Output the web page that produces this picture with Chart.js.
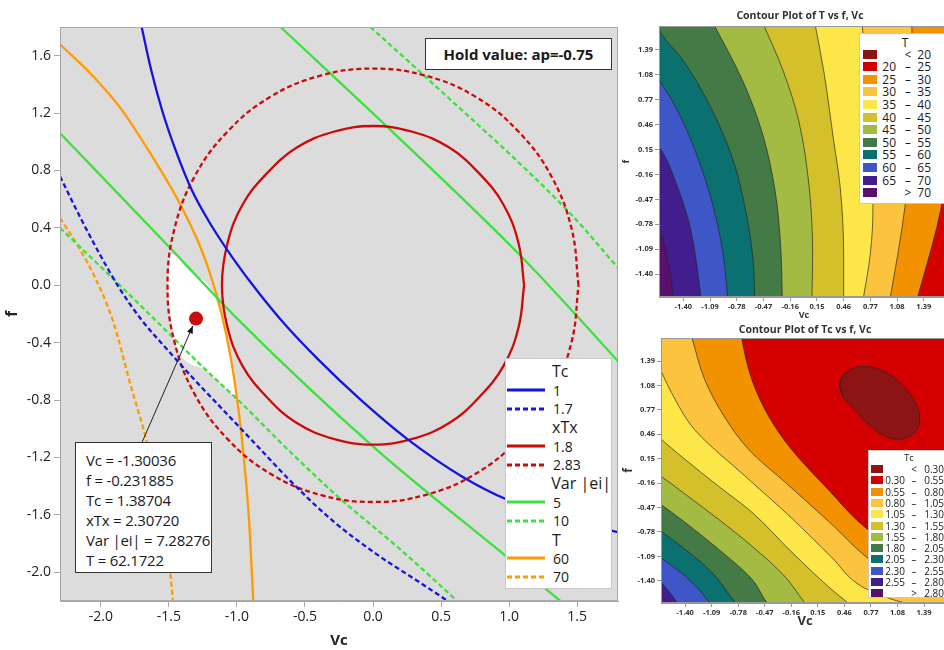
<!DOCTYPE html>
<html>
<head>
<meta charset="utf-8">
<script src="https://cdn.jsdelivr.net/npm/chart.js@4.4.1/dist/chart.umd.min.js"></script>
<style>
  html, body { margin: 0; padding: 0; background: #fff; }
  body { position: relative; width: 944px; height: 650px; overflow: hidden; font-family: 'Open Sans', sans-serif; color: #1a1a1a; }
  canvas { position: absolute; }
  .box { position: absolute; background: #fff; box-sizing: border-box; }
  .plot-title { position: absolute; text-align: center; font-weight: bold; font-size: 10.5px; color: #333; white-space: nowrap; }
  #hold { left: 425px; top: 38px; width: 187px; height: 32px; border: 1px solid #333; font-weight: bold; font-size: 15px; line-height: 30px; text-align: center; }
  #callout { left: 75px; top: 442px; width: 137px; height: 131px; border: 1px solid #333; padding: 7px 0 0 10px; font-size: 15px; line-height: 20px; white-space: nowrap; letter-spacing: -0.2px; }
  #overlayKey { left: 505px; top: 358px; width: 107px; height: 231px; border: 1px solid #c8c8c8; padding-top: 3px; }
  #overlayKey .row { height: 18.7px; display: flex; align-items: center; white-space: nowrap; }
  #overlayKey .row span { margin-left: 7px; font-size: 14px; }
  #overlayKey .row.group span { font-size: 16px; }
  .key { border: 1px solid #c8c8c8; }
  .key .ttl { position: absolute; left: 0; width: 100%; text-align: center; }
  .key .sw { position: absolute; }
  .key .lo, .key .hi { position: absolute; text-align: right; width: 30px; }
  .key .sym { position: absolute; width: 12px; text-align: center; }
</style>
</head>
<body>
<canvas id="overlaid" width="625" height="650" style="left:0;top:0"></canvas>
<canvas id="contourT" width="335" height="322" style="left:620px;top:0"></canvas>
<canvas id="contourTc" width="335" height="328" style="left:620px;top:322px"></canvas>

<div class="plot-title" style="left:655px;top:8px;width:290px">Contour Plot of T vs f, Vc</div>
<div class="plot-title" style="left:660px;top:322px;width:290px">Contour Plot of Tc vs f, Vc</div>

<div id="hold" class="box"></div>
<div id="callout" class="box"></div>
<div id="overlayKey" class="box"></div>
<div id="keyT" class="box key" style="left:859px;top:33px;width:92px;height:171px"></div>
<div id="keyTc" class="box key" style="left:868px;top:450px;width:82px;height:148px"></div>

<script>
// ---------- overlaid contour plot (Vc, f), ap held ----------
const VC_TICKS = [-2.0, -1.5, -1.0, -0.5, 0.0, 0.5, 1.0, 1.5];
const F_TICKS = [-2.0, -1.6, -1.2, -0.8, -0.4, 0.0, 0.4, 0.8, 1.2, 1.6];

const RESPONSES = ['Tc', 'xTx', 'Var |ei|', 'T'];
const CONTOUR_LEVELS = [[1, 1.7], [1.8, 2.83], [5, 10], [60, 70]];

const TC_AT_1 = [[-1.70,1.80],[-1.63,1.50],[-1.55,1.22],[-1.45,0.94],[-1.33,0.66],[-1.19,0.42],[-1.03,0.19],[-0.85,-0.04],[-0.65,-0.27],[-0.40,-0.52],[-0.10,-0.79],[0.25,-1.07],[0.65,-1.33],[1.00,-1.50],[1.40,-1.63],[1.80,-1.72]];
const TC_AT_17 = [[-2.30,0.76],[-2.16,0.49],[-2.01,0.22],[-1.87,-0.01],[-1.71,-0.23],[-1.51,-0.45],[-1.31,-0.66],[-1.10,-0.87],[-0.87,-1.10],[-0.60,-1.37],[-0.31,-1.63],[0.02,-1.87],[0.31,-2.05],[0.55,-2.20]];
const XTX_AT_18 = [[1.11,0.00],[1.07,0.29],[0.96,0.56],[0.78,0.78],[0.56,0.96],[0.29,1.07],[0.00,1.11],[-0.29,1.07],[-0.56,0.96],[-0.78,0.78],[-0.96,0.56],[-1.07,0.29],[-1.11,0.00],[-1.07,-0.29],[-0.96,-0.56],[-0.78,-0.78],[-0.56,-0.96],[-0.29,-1.07],[0.00,-1.11],[0.29,-1.07],[0.56,-0.96],[0.78,-0.78],[0.96,-0.56],[1.07,-0.29],[1.11,0.00]];
const XTX_AT_283 = [[1.51,0.00],[1.46,0.39],[1.31,0.76],[1.07,1.07],[0.76,1.31],[0.39,1.46],[0.00,1.51],[-0.39,1.46],[-0.76,1.31],[-1.07,1.07],[-1.31,0.76],[-1.46,0.39],[-1.51,0.00],[-1.46,-0.39],[-1.31,-0.76],[-1.07,-1.07],[-0.76,-1.31],[-0.39,-1.46],[0.00,-1.51],[0.39,-1.46],[0.76,-1.31],[1.07,-1.07],[1.31,-0.76],[1.46,-0.39],[1.51,0.00]];
const VAR_AT_5_LOW = [[-2.30,1.06],[-1.48,0.25],[-0.98,-0.25],[0.02,-1.14],[0.98,-1.89],[1.39,-2.21]];
const VAR_AT_5_HIGH = [[-0.68,1.80],[0.12,1.09],[1.10,0.19],[1.60,-0.32],[1.80,-0.53]];
const VAR_AT_10_LOW = [[-2.30,0.40],[-1.86,0.00],[-1.57,-0.27],[-1.25,-0.57],[-0.98,-0.81],[-0.62,-1.15],[-0.25,-1.48],[0.20,-1.84],[0.63,-2.21]];
const VAR_AT_10_HIGH = [[-0.02,1.80],[0.40,1.44],[1.45,0.50],[1.81,0.11]];
const T_AT_60 = [[-2.30,1.68],[-2.04,1.44],[-1.86,1.24],[-1.63,0.91],[-1.42,0.57],[-1.27,0.27],[-1.18,0.03],[-1.10,-0.25],[-1.02,-0.65],[-0.96,-1.10],[-0.91,-1.65],[-0.88,-2.20]];
const T_AT_70 = [[-2.30,0.47],[-2.16,0.26],[-2.04,0.05],[-1.91,-0.25],[-1.78,-0.70],[-1.66,-1.10],[-1.56,-1.55],[-1.49,-2.00],[-1.47,-2.20]];

// feasible (white) window, upper and lower edges
const FEASIBLE_TOP = [[-1.51,0.00],[-1.50,0.12],[-1.49,0.22],[-1.34,0.09],[-1.19,-0.03],[-1.10,-0.27],[-1.02,-0.65],[-0.99,-0.80]];
const FEASIBLE_BOTTOM = [[-1.51,0.00],[-1.49,-0.25],[-1.45,-0.42],[-1.22,-0.60],[-0.99,-0.80]];

const HOLD_FACTOR = 'ap';
const HOLD_VALUE = '-0.75';
const CALLOUT_NAMES = ['Vc', 'f', 'Tc', 'xTx', 'Var |ei|', 'T'];
const CALLOUT_VALUES = ['-1.30036', '-0.231885', '1.38704', '2.30720', '7.28276', '62.1722'];

// ---------- filled contour plots, coded units ----------
const CODED_TICKS = [-1.40, -1.09, -0.78, -0.47, -0.16, 0.15, 0.46, 0.77, 1.08, 1.39];

const T_LEVELS = [20, 25, 30, 35, 40, 45, 50, 55, 60, 65, 70];
const T_AT_25 = [[1.80,1.75],[1.72,0.40],[1.62,-0.40],[1.54,-0.82],[1.43,-1.26],[1.30,-1.75]];
const T_AT_30 = [[1.25,1.75],[1.26,0.87],[1.23,0.13],[1.17,-0.57],[1.09,-1.14],[0.99,-1.75]];
const T_AT_35 = [[0.67,1.75],[0.74,0.91],[0.78,0.13],[0.80,-0.57],[0.77,-1.14],[0.68,-1.75]];
const T_AT_40 = [[0.12,1.75],[0.23,1.12],[0.34,0.29],[0.42,-0.32],[0.46,-1.14],[0.46,-1.75]];
const T_AT_45 = [[-0.49,1.75],[-0.24,1.12],[-0.06,0.50],[0.06,-0.32],[0.10,-1.14],[0.09,-1.75]];
const T_AT_50 = [[-1.07,1.75],[-0.71,1.00],[-0.48,0.34],[-0.33,-0.40],[-0.27,-1.07],[-0.25,-1.75]];
const T_AT_55 = [[-1.72,1.75],[-1.65,1.58],[-1.40,1.25],[-1.10,0.71],[-0.82,0.01],[-0.67,-0.65],[-0.59,-1.23],[-0.57,-1.75]];
const T_AT_60_CODED = [[-1.75,1.12],[-1.65,0.96],[-1.48,0.66],[-1.25,0.10],[-1.05,-0.57],[-0.94,-1.14],[-0.88,-1.75]];
const T_AT_65 = [[-1.75,0.25],[-1.65,0.13],[-1.48,-0.28],[-1.34,-0.73],[-1.25,-1.23],[-1.19,-1.75]];
const T_AT_70_CODED = [[-1.75,-0.80],[-1.65,-0.93],[-1.60,-1.14],[-1.54,-1.47],[-1.51,-1.75]];
const T_BOUNDARIES = [T_AT_25, T_AT_30, T_AT_35, T_AT_40, T_AT_45, T_AT_50, T_AT_55, T_AT_60_CODED, T_AT_65, T_AT_70_CODED];

const TC_LEVELS = [0.30, 0.55, 0.80, 1.05, 1.30, 1.55, 1.80, 2.05, 2.30, 2.55, 2.80];
// closed < 0.30 island, traced clockwise; the first two points are repeated at the end
const TC_AT_030 = [[0.44,0.95],[0.41,1.12],[0.50,1.26],[0.68,1.32],[0.92,1.26],[1.15,1.07],[1.29,0.86],[1.34,0.65],[1.28,0.48],[1.12,0.40],[0.95,0.43],[0.76,0.57],[0.58,0.77],[0.44,0.95],[0.41,1.12],[0.50,1.26]];
const TC_AT_055 = [[-0.75,1.75],[-0.74,1.68],[-0.62,1.15],[-0.42,0.68],[-0.16,0.27],[0.27,-0.24],[0.69,-0.71],[1.10,-1.02],[1.70,-1.30],[1.85,-1.40]];
const TC_AT_080 = [[-1.34,1.75],[-1.32,1.68],[-1.17,1.15],[-0.94,0.68],[-0.66,0.27],[-0.20,-0.18],[0.29,-0.66],[0.72,-1.10],[1.15,-1.42],[1.70,-1.65],[1.85,-1.75]];
const TC_AT_105 = [[-1.75,1.42],[-1.71,1.33],[-1.56,0.99],[-1.29,0.52],[-0.68,-0.09],[-0.16,-0.60],[0.31,-1.10],[0.66,-1.47],[1.00,-1.63],[1.24,-1.70],[1.45,-1.75]];
const TC_AT_130 = [[-1.75,0.48],[-1.71,0.43],[-1.40,0.14],[-1.01,-0.20],[-0.62,-0.53],[-0.17,-1.02],[0.31,-1.51],[0.49,-1.67],[0.58,-1.75]];
const TC_AT_155 = [[-1.75,-0.02],[-1.71,-0.05],[-1.40,-0.30],[-1.01,-0.62],[-0.62,-0.96],[-0.24,-1.34],[-0.01,-1.67],[0.05,-1.75]];
const TC_AT_180 = [[-1.75,-0.38],[-1.71,-0.41],[-1.40,-0.66],[-1.01,-1.00],[-0.62,-1.38],[-0.45,-1.67],[-0.39,-1.75]];
const TC_AT_205 = [[-1.75,-0.72],[-1.71,-0.75],[-1.40,-1.00],[-1.09,-1.29],[-0.82,-1.67],[-0.76,-1.75]];
const TC_AT_230 = [[-1.75,-1.06],[-1.71,-1.09],[-1.40,-1.34],[-1.12,-1.67],[-1.08,-1.75]];
const TC_AT_255 = [[-1.75,-1.33],[-1.71,-1.38],[-1.50,-1.67],[-1.47,-1.75]];
const TC_AT_280 = [[-1.75,-1.58],[-1.70,-1.63],[-1.67,-1.70],[-1.65,-1.75]];
const TC_BOUNDARIES = [TC_AT_055, TC_AT_080, TC_AT_105, TC_AT_130, TC_AT_155, TC_AT_180, TC_AT_205, TC_AT_230, TC_AT_255, TC_AT_280];

// ---------- styling ----------
const PALETTE = ['#8c1414','#d40000','#f39200','#fcc43e','#fde748','#d3c02a','#a3bb42','#447a45','#0b7070','#3f57c6','#421d8d','#5b0f6c'];
const RESPONSE_COLORS = ['#1414dc', '#cc0a0a', '#3de03d', '#ff9a00'];
const DASH = [5, 3];
const EDGE = 'rgba(35,35,35,0.85)';
const FONT = "'Open Sans', sans-serif";

const pts = arr => arr.map(([x, y]) => ({ x, y }));

const plotBg = {
  id: 'plotBg',
  beforeDatasetsDraw(chart, args, opts) {
    const { ctx, chartArea: a } = chart;
    ctx.save();
    ctx.fillStyle = opts.color;
    ctx.fillRect(a.left, a.top, a.right - a.left, a.bottom - a.top);
    ctx.restore();
  }
};
const frame = {
  id: 'frame',
  afterDraw(chart, args, opts) {
    const { ctx, chartArea: a } = chart;
    ctx.save();
    ctx.strokeStyle = opts.color;
    ctx.lineWidth = 1;
    ctx.strokeRect(a.left + 0.5, a.top + 0.5, a.right - a.left - 1, a.bottom - a.top - 1);
    ctx.restore();
  }
};
const calloutArrow = {
  id: 'calloutArrow',
  afterDatasetsDraw(chart, args, opts) {
    const { ctx, scales: { x, y } } = chart;
    const x0 = x.getPixelForValue(opts.from[0]), y0 = y.getPixelForValue(opts.from[1]);
    const x1 = x.getPixelForValue(opts.to[0]), y1 = y.getPixelForValue(opts.to[1]);
    const ang = Math.atan2(y1 - y0, x1 - x0);
    const tx = x1 - Math.cos(ang) * 8, ty = y1 - Math.sin(ang) * 8;
    ctx.save();
    ctx.strokeStyle = '#222';
    ctx.fillStyle = '#111';
    ctx.lineWidth = 1;
    ctx.beginPath(); ctx.moveTo(x0, y0); ctx.lineTo(tx, ty); ctx.stroke();
    ctx.beginPath();
    ctx.moveTo(tx, ty);
    ctx.lineTo(tx - 8 * Math.cos(ang - 0.4), ty - 8 * Math.sin(ang - 0.4));
    ctx.lineTo(tx - 8 * Math.cos(ang + 0.4), ty - 8 * Math.sin(ang + 0.4));
    ctx.closePath(); ctx.fill();
    ctx.restore();
  }
};

// open contours run left to right, so monotone splines keep them from wobbling;
// the closed xTx rings use plain bezier tension
function contourLine(data, color, dashed, ring) {
  const ds = {
    data: pts(data), showLine: true, borderColor: color, borderWidth: 2.3,
    borderDash: dashed ? DASH : [], pointRadius: 0, fill: false
  };
  if (ring) ds.tension = 0.4; else ds.cubicInterpolationMode = 'monotone';
  return ds;
}

const dot = { x: parseFloat(CALLOUT_VALUES[0]), y: parseFloat(CALLOUT_VALUES[1]) };

new Chart(document.getElementById('overlaid'), {
  type: 'scatter',
  data: {
    datasets: [
      { data: [dot], pointRadius: 7, pointHoverRadius: 7, backgroundColor: RESPONSE_COLORS[1], borderWidth: 0 },
      contourLine(TC_AT_1, RESPONSE_COLORS[0], false),
      contourLine(TC_AT_17, RESPONSE_COLORS[0], true),
      contourLine(XTX_AT_18, RESPONSE_COLORS[1], false, true),
      contourLine(XTX_AT_283, RESPONSE_COLORS[1], true, true),
      contourLine(VAR_AT_5_LOW, RESPONSE_COLORS[2], false),
      contourLine(VAR_AT_5_HIGH, RESPONSE_COLORS[2], false),
      contourLine(VAR_AT_10_LOW, RESPONSE_COLORS[2], true),
      contourLine(VAR_AT_10_HIGH, RESPONSE_COLORS[2], true),
      contourLine(T_AT_60, RESPONSE_COLORS[3], false),
      contourLine(T_AT_70, RESPONSE_COLORS[3], true),
      { data: pts(FEASIBLE_TOP), showLine: true, borderWidth: 0, pointRadius: 0, cubicInterpolationMode: 'monotone', backgroundColor: '#ffffff', fill: '+1' },
      { data: pts(FEASIBLE_BOTTOM), showLine: true, borderWidth: 0, pointRadius: 0, cubicInterpolationMode: 'monotone', fill: false }
    ]
  },
  options: {
    responsive: false,
    animation: false,
    events: [],
    layout: { padding: { top: 27, right: 5, left: 0, bottom: 0 } },
    plugins: {
      legend: { display: false },
      tooltip: { enabled: false },
      plotBg: { color: '#dcdcdc' },
      frame: { color: '#a8a8a8' },
      calloutArrow: { from: [-1.70, -1.10], to: [dot.x, dot.y] }
    },
    scales: {
      x: {
        type: 'linear', min: -2.3, max: 1.8,
        afterBuildTicks: s => { s.ticks = VC_TICKS.map(v => ({ value: v })); },
        afterFit: s => { s.height = 49; },
        ticks: { callback: v => v.toFixed(1), font: { family: FONT, size: 14 }, color: '#222', padding: 2, maxRotation: 0 },
        grid: { drawOnChartArea: false, tickLength: 6, color: '#a8a8a8' },
        border: { color: '#a8a8a8' },
        title: { display: true, text: 'Vc', font: { family: FONT, size: 15, weight: 'bold' }, color: '#222', padding: { top: 0, bottom: 0 } }
      },
      y: {
        type: 'linear', min: -2.2, max: 1.8,
        afterBuildTicks: s => { s.ticks = F_TICKS.map(v => ({ value: v })); },
        afterFit: s => { s.width = 60; },
        ticks: { callback: v => v.toFixed(1), font: { family: FONT, size: 14 }, color: '#222', padding: 3 },
        grid: { drawOnChartArea: false, tickLength: 6, color: '#a8a8a8' },
        border: { color: '#a8a8a8' },
        title: { display: true, text: 'f', font: { family: FONT, size: 16, weight: 'bold' }, color: '#222', padding: { top: 3, bottom: 0 } }
      }
    }
  },
  plugins: [plotBg, frame, calloutArrow]
});

// ---------- filled contour charts ----------
function bandLayer(data, color) {
  return {
    data: pts(data), borderColor: EDGE, borderWidth: 0.8, backgroundColor: color,
    fill: { value: -1.9 }, pointRadius: 0, cubicInterpolationMode: 'monotone'
  };
}

function codedScales(xTitle, yTitle, xHeight, yWidth) {
  const tickFont = { family: FONT, size: 7.5, weight: 'bold' };
  return {
    x: {
      type: 'linear', min: -1.682, max: 1.682,
      afterBuildTicks: s => { s.ticks = CODED_TICKS.map(v => ({ value: v })); },
      afterFit: s => { s.height = xHeight; },
      ticks: { callback: v => v.toFixed(2), font: tickFont, color: '#333', padding: 1, maxRotation: 0, autoSkip: false },
      grid: { drawOnChartArea: false, tickLength: 4, color: '#999' },
      border: { color: '#999' },
      title: { display: true, text: 'Vc', font: { family: FONT, size: xTitle, weight: 'bold' }, color: '#333', padding: { top: 0, bottom: 1 } }
    },
    y: {
      type: 'linear', min: -1.682, max: 1.682,
      afterBuildTicks: s => { s.ticks = CODED_TICKS.map(v => ({ value: v })); },
      afterFit: s => { s.width = yWidth; },
      ticks: { callback: v => v.toFixed(2), font: tickFont, color: '#333', padding: 2, autoSkip: false },
      grid: { drawOnChartArea: false, tickLength: 4, color: '#999' },
      border: { color: '#999' },
      title: { display: true, text: 'f', font: { family: FONT, size: yTitle, weight: 'bold' }, color: '#333', padding: { top: 1, bottom: 0 } }
    }
  };
}

// painted from the largest region inward: dataset 0 ends up on top
const tSets = [];
for (let k = T_BOUNDARIES.length - 1; k >= 0; k--) tSets.push(bandLayer(T_BOUNDARIES[k], PALETTE[k + 2]));

new Chart(document.getElementById('contourT'), {
  type: 'line',
  data: { datasets: tSets },
  options: {
    indexAxis: 'y',
    responsive: false,
    animation: false,
    events: [],
    layout: { padding: { top: 26, right: 6, left: 0, bottom: 0 } },
    plugins: { legend: { display: false }, tooltip: { enabled: false }, plotBg: { color: PALETTE[1] }, frame: { color: '#999' } },
    scales: codedScales(9, 8.5, 25, 39)
  },
  plugins: [plotBg, frame]
});

// the < 0.30 island is a closed ring filled inside its own outline
const island = Object.assign(bandLayer(TC_AT_030, PALETTE[0]), { fill: 'shape', cubicInterpolationMode: 'default', tension: 0.4 });
const tcSets = [island];
for (let k = TC_BOUNDARIES.length - 1; k >= 0; k--) tcSets.push(bandLayer(TC_BOUNDARIES[k], PALETTE[k + 2]));

new Chart(document.getElementById('contourTc'), {
  type: 'line',
  data: { datasets: tcSets },
  options: {
    indexAxis: 'y',
    responsive: false,
    animation: false,
    events: [],
    layout: { padding: { top: 16, right: 6, left: 0, bottom: 20 } },
    plugins: { legend: { display: false }, tooltip: { enabled: false }, plotBg: { color: PALETTE[1] }, frame: { color: '#999' } },
    scales: codedScales(13, 12, 27, 41)
  },
  plugins: [plotBg, frame]
});

// ---------- boxes and keys ----------
document.getElementById('hold').textContent = 'Hold value: ' + HOLD_FACTOR + '=' + HOLD_VALUE;
document.getElementById('callout').innerHTML =
  CALLOUT_NAMES.map((n, i) => '<div>' + n + ' = ' + CALLOUT_VALUES[i] + '</div>').join('');

const okey = document.getElementById('overlayKey');
RESPONSES.forEach((name, i) => {
  okey.insertAdjacentHTML('beforeend', '<div class="row group"><svg width="39" height="6"></svg><span>' + name + '</span></div>');
  CONTOUR_LEVELS[i].forEach((lv, j) => {
    const dash = j === 1 ? ' stroke-dasharray="5 3"' : '';
    okey.insertAdjacentHTML('beforeend',
      '<div class="row"><svg width="39" height="6" style="margin-left:1px"><line x1="0" y1="3" x2="38" y2="3" stroke="' +
      RESPONSE_COLORS[i] + '" stroke-width="3"' + dash + '/></svg><span>' + lv + '</span></div>');
  });
});

function contourKey(el, title, levels, digits, g) {
  const fmt = v => v.toFixed(digits);
  let html = '<div class="ttl" style="top:' + g.titleTop + 'px;font-size:' + g.titleSize + 'px">' + title + '</div>';
  for (let i = 0; i <= levels.length; i++) {
    let lo = '', sym = '\u2013', hi = '';
    if (i === 0) { sym = '<'; hi = fmt(levels[0]); }
    else if (i === levels.length) { sym = '>'; hi = fmt(levels[levels.length - 1]); }
    else { lo = fmt(levels[i - 1]); hi = fmt(levels[i]); }
    const cy = g.row0 + i * g.step;
    const ty = cy - g.size * 0.7;
    html += '<div class="sw" style="left:' + g.swLeft + 'px;top:' + (cy - g.swH / 2) + 'px;width:' + g.swW + 'px;height:' + g.swH + 'px;background:' + PALETTE[i] + '"></div>';
    html += '<div class="lo" style="left:' + (g.loRight - 30) + 'px;top:' + ty + 'px;font-size:' + g.size + 'px">' + lo + '</div>';
    html += '<div class="sym" style="left:' + (g.symCenter - 6) + 'px;top:' + ty + 'px;font-size:' + g.size + 'px">' + sym + '</div>';
    html += '<div class="hi" style="left:' + (g.hiRight - 30) + 'px;top:' + ty + 'px;font-size:' + g.size + 'px">' + hi + '</div>';
  }
  el.innerHTML = html;
}

contourKey(document.getElementById('keyT'), 'T', T_LEVELS, 0,
  { titleTop: 0, titleSize: 12, row0: 20, step: 12.6, size: 12, swLeft: 3, swW: 14, swH: 9, loRight: 36, symCenter: 48, hiRight: 71 });
contourKey(document.getElementById('keyTc'), 'Tc', TC_LEVELS, 2,
  { titleTop: 0, titleSize: 9, row0: 18, step: 11.3, size: 10, swLeft: 2, swW: 12, swH: 8, loRight: 36, symCenter: 45, hiRight: 75 });
</script>
</body>
</html>
